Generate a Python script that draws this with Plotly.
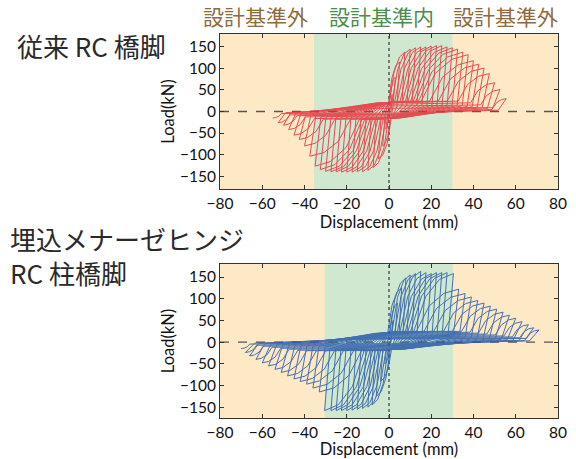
import plotly.graph_objects as go

# ---- Data (cycle peak points) ----
# Top: conventional RC pier (red)
R_POS_DISP = [1.5, 3, 5, 7.5, 10, 12.5, 15, 17.5, 20, 22.5, 25, 27.5, 30, 32.5, 35, 37.5, 40, 42.5, 45, 47.5, 50, 52.5, 55.5]
R_POS_LOAD = [40, 80, 115, 138, 145, 148, 150, 150, 152, 153, 153, 150, 148, 145, 138, 132, 118, 110, 101, 88, 67, 51, 30]
R_NEG_DISP = [-1.5, -3, -5, -7.5, -10, -12.5, -15, -17.5, -20, -22.5, -25, -27.5, -30, -32.5, -35, -37.5, -40, -42.5, -45, -47.5, -50, -52.5, -55]
R_NEG_LOAD = [-40, -80, -110, -130, -137, -140, -140, -141, -141, -141, -140, -140, -139, -135, -127, -104, -80, -65, -55, -42, -32, -26, -15]

# Bottom: embedded Menager-hinge RC column pier (blue)
B_POS_DISP = [2, 4, 6, 8, 10, 12.5, 15, 17.5, 20, 22.5, 25, 27.5, 30.5, 33, 36, 39, 42, 45, 48, 51, 54, 57, 60, 63, 66, 68.5, 71]
B_POS_LOAD = [50, 90, 125, 148, 155, 158, 163, 160, 158, 160, 160, 160, 158, 122, 112, 104, 96, 90, 83, 76, 69, 62, 55, 47, 40, 33, 28]
B_NEG_DISP = [-2, -4, -6, -8, -10, -12.5, -15, -17.5, -20, -22.5, -25, -27.5, -30.5, -33, -36, -39, -42, -45, -48, -51, -54, -57, -60, -63, -66, -68, -70]
B_NEG_LOAD = [-50, -90, -125, -145, -150, -153, -155, -157, -158, -158, -158, -158, -158, -115, -106, -97, -91, -85, -78, -70, -63, -55, -48, -40, -32, -24, -15]

X_TICKS = [-80, -60, -40, -20, 0, 20, 40, 60, 80]
Y_TICKS = [-150, -100, -50, 0, 50, 100, 150]

TOP_BAND = (-35.5, 30.0)
BOT_BAND = (-30.4, 30.3)

ZONE_OUT = "設計基準外"
ZONE_IN = "設計基準内"
LABEL_TOP = "従来 RC 橋脚"
LABEL_BOT1 = "埋込メナーゼヒンジ"
LABEL_BOT2 = "RC 柱橋脚"


def half(x0, y0, A, P, pinch):
    """Path from previous peak (x0,y0) to next peak (A,P), pinched shape."""
    s = 1 if A > 0 else -1
    aA, aP = abs(A), abs(P)
    d = 1.0 + 0.05 * abs(x0)
    ux, uy = x0 + s * d, 0.1 * y0
    pl = min(pinch, 0.3 * aP)
    w = min(0.5 * aA + 3.5, (aP - pl) / 5.0 + 2.0)
    xc = A - s * w
    lim = ux + 0.25 * (A - ux)
    xc = max(xc, lim) if s > 0 else min(xc, lim)
    xs, ys = [ux], [uy]
    xm = -s * 0.15 * abs(x0)
    if (xc - xm) * s > 1.0 and (xm - ux) * s > 1.0:
        xs.append(xm); ys.append(s * 0.8 * pl)
    ww = A - xc
    xs += [xc, xc + 0.3 * ww, xc + 0.65 * ww, A]
    ys += [s * pl, s * (pl + 0.6 * (aP - pl)), s * (pl + 0.9 * (aP - pl)), P]
    return xs, ys


def build(pd, pv, nd, nv, pp, pn):
    xs, ys = [0.0], [0.0]
    cx, cy = 0.0, 0.0
    for a, p, b, n in zip(pd, pv, nd, nv):
        hx, hy = half(cx, cy, a, p, pp)
        xs += hx; ys += hy
        hx, hy = half(a, p, b, n, pn)
        xs += hx; ys += hy
        cx, cy = b, n
    return xs, ys


rx, ry = build(R_POS_DISP, R_POS_LOAD, R_NEG_DISP, R_NEG_LOAD, 24, 18)
bx, by = build(B_POS_DISP, B_POS_LOAD, B_NEG_DISP, B_NEG_LOAD, 25, 20)

W, H = 576, 459
ML, MR, MT, MB = 220, 18, 34, 41
PW, PH = W - ML - MR, H - MT - MB

fig = go.Figure()
fig.add_trace(go.Scatter(x=rx, y=ry, mode="lines", line=dict(color="#E8323C", width=1.0),
                         opacity=0.85, xaxis="x", yaxis="y", hoverinfo="skip"))
fig.add_trace(go.Scatter(x=bx, y=by, mode="lines", line=dict(color="#2A5BAA", width=1.0),
                         opacity=0.85, xaxis="x2", yaxis="y2", hoverinfo="skip"))

FONT = "Lato"
TICKF = dict(family=FONT, size=15.5, color="#111")
TF = dict(family=FONT, size=16.5, color="#111")
axis_common = dict(showline=True, linecolor="#333", linewidth=1, mirror="allticks",
                   ticks="inside", ticklen=4, tickcolor="#333", showgrid=False, zeroline=False,
                   automargin=False, tickfont=TICKF)

top_dom = [1 - (189 - MT) / PH, 1.0]
bot_dom = [0.0, (418 - 264) / PH]

fig.update_layout(
    width=W, height=H, margin=dict(l=ML, r=MR, t=MT, b=MB, autoexpand=False),
    paper_bgcolor="white", plot_bgcolor="#FDE9C6", showlegend=False,
    xaxis=dict(domain=[0, 1], anchor="y", range=[-80, 80], tickvals=X_TICKS,
               title=dict(text="Displacement (mm)", font=TF, standoff=3), **axis_common),
    yaxis=dict(domain=top_dom, anchor="x", range=[-180, 180], tickvals=Y_TICKS,
               title=dict(text="Load(kN)", font=TF, standoff=1), **axis_common),
    xaxis2=dict(domain=[0, 1], anchor="y2", range=[-80, 80], tickvals=X_TICKS,
                title=dict(text="Displacement (mm)", font=TF, standoff=3), **axis_common),
    yaxis2=dict(domain=bot_dom, anchor="x2", range=[-175, 180], tickvals=Y_TICKS,
                title=dict(text="Load(kN)", font=TF, standoff=1), **axis_common),
)

shapes = []
for xr, yr, band in (("x", "y", TOP_BAND), ("x2", "y2", BOT_BAND)):
    shapes.append(dict(type="rect", xref=xr, yref=yr + " domain", x0=band[0], x1=band[1], y0=0, y1=1,
                       fillcolor="#D1E8D0", line=dict(width=0), layer="below"))
    shapes.append(dict(type="line", xref=xr + " domain", yref=yr, x0=0, x1=1, y0=0, y1=0,
                       line=dict(color="#555", width=1.3, dash="dash"), layer="below"))
    shapes.append(dict(type="line", xref=xr, yref=yr + " domain", x0=0, x1=0, y0=0, y1=1,
                       line=dict(color="#555", width=1.5, dash="dot"), layer="below"))
fig.update_layout(shapes=shapes)

CJK = "Noto Sans CJK JP"
ann = [
    dict(text=ZONE_OUT, x=255, y=16, color="#8C6B3E", size=21, anchor="center"),
    dict(text=ZONE_IN, x=381, y=16, color="#4C8C4C", size=21, anchor="center"),
    dict(text=ZONE_OUT, x=505, y=16, color="#8C6B3E", size=21, anchor="center"),
    dict(text=LABEL_TOP, x=91, y=45, color="#2A2A2A", size=26, anchor="center"),
    dict(text=LABEL_BOT1 + "<br>" + LABEL_BOT2, x=8, y=255, color="#2A2A2A", size=26, anchor="left"),
]
fig.update_layout(annotations=[
    dict(text=a["text"], x=(a["x"] - ML) / PW, y=1 - (a["y"] - MT) / PH, xref="paper", yref="paper",
         xanchor=a["anchor"], yanchor="middle", align="left", showarrow=False,
         font=dict(family=CJK, size=a["size"], color=a["color"]))
    for a in ann
])

fig.write_html("out.html", config={"displayModeBar": False},
               post_script="document.body.style.margin='0';document.body.style.overflow='hidden';")
